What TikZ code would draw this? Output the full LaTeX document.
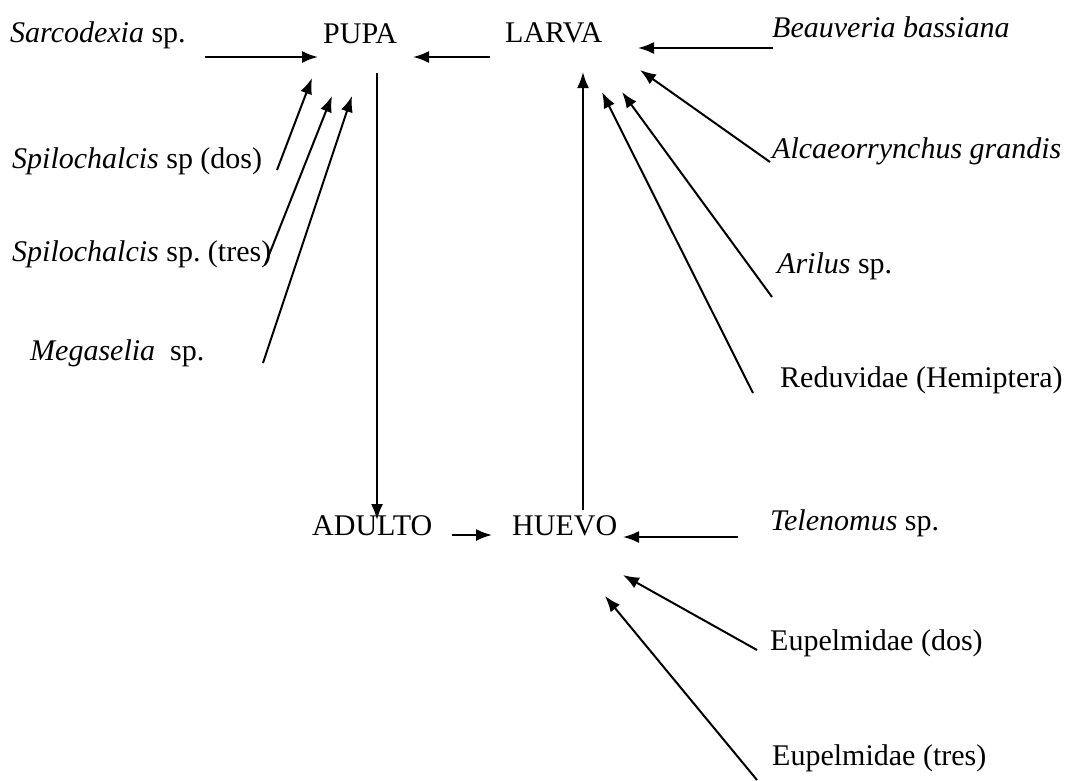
\documentclass[tikz,border=0pt]{standalone}
\usepackage{fontspec}
\setmainfont{Liberation Serif}
\usetikzlibrary{arrows.meta}

\begin{document}
\begin{tikzpicture}
        [x=1pt,y=-1pt,
         every node/.style={inner sep=0pt,anchor=base west,font=\fontsize{30}{36}\selectfont},
         arr/.style={-{Latex[length=16pt,width=12pt]},line width=2pt}]
      \useasboundingbox (0,0) rectangle (1083,780);
      % stages
      \node (pupa)   at (323,43)  {PUPA};
      \node (larva)  at (505,42)  {LARVA};
      \node (adulto) at (312,535) {ADULTO};
      \node (huevo)  at (512,535) {HUEVO};
      % enemies of the pupa
      \node (sarc) at (10,42)  {\textit{Sarcodexia} sp.};
      \node (spdos) at (12,168) {\textit{Spilochalcis} sp (dos)};
      \node (sptres) at (12,261) {\textit{Spilochalcis} sp.\ (tres)};
      \node (mega) at (30,360) {\textit{Megaselia}\ \ sp.};
      % enemies of the larva
      \node (beau) at (772,37)  {\textit{Beauveria bassiana}};
      \node (alca) at (772,158) {\textit{Alcaeorrynchus grandis}};
      \node (aril) at (777,273) {\textit{Arilus} sp.};
      \node (redu) at (780,387) {Reduvidae (Hemiptera)};
      % enemies of the egg
      \node (tele) at (770,530) {\textit{Telenomus} sp.};
      \node (eudos) at (770,650) {Eupelmidae (dos)};
      \node (eutres) at (772,765) {Eupelmidae (tres)};
      % arrow ends
      \coordinate (sarc-t) at (205,57);  \coordinate (pupa-w) at (318,57);
      \coordinate (larva-w) at (490,57); \coordinate (pupa-e) at (413,57);
      \coordinate (beau-t) at (773,48);  \coordinate (larva-e) at (638,48);
      \coordinate (pupa-s) at (377,73);  \coordinate (adulto-n) at (377,520);
      \coordinate (huevo-n) at (583,510); \coordinate (larva-s) at (583,72);
      \coordinate (adulto-e) at (452,535); \coordinate (huevo-w) at (492,535);
      \coordinate (tele-t) at (738,537); \coordinate (huevo-e) at (623,537);
      \coordinate (eudos-t) at (757,650); \coordinate (huevo-se) at (623,575);
      \coordinate (eutres-t) at (757,780); \coordinate (huevo-s) at (605,596);
      \coordinate (alca-t) at (770,162); \coordinate (larva-1) at (640,70);
      \coordinate (aril-t) at (772,297); \coordinate (larva-2) at (622,92);
      \coordinate (redu-t) at (753,393); \coordinate (larva-3) at (602,92);
      \coordinate (spdos-t) at (277,170); \coordinate (pupa-1) at (312,78);
      \coordinate (sptres-t) at (265,265); \coordinate (pupa-2) at (332,96);
      \coordinate (mega-t) at (263,363); \coordinate (pupa-3) at (352,96);
      % cycle
      \draw[arr] (larva-w) -- (pupa-e);
      \draw[arr] (pupa-s) -- (adulto-n);
      \draw[arr] (adulto-e) -- (huevo-w);
      \draw[arr] (huevo-n) -- (larva-s);
      % enemies
      \draw[arr] (sarc-t) -- (pupa-w);
      \draw[arr] (spdos-t) -- (pupa-1);
      \draw[arr] (sptres-t) -- (pupa-2);
      \draw[arr] (mega-t) -- (pupa-3);
      \draw[arr] (beau-t) -- (larva-e);
      \draw[arr] (alca-t) -- (larva-1);
      \draw[arr] (aril-t) -- (larva-2);
      \draw[arr] (redu-t) -- (larva-3);
      \draw[arr] (tele-t) -- (huevo-e);
      \draw[arr] (eudos-t) -- (huevo-se);
      \draw[arr] (eutres-t) -- (huevo-s);
\end{tikzpicture}
\end{document}
